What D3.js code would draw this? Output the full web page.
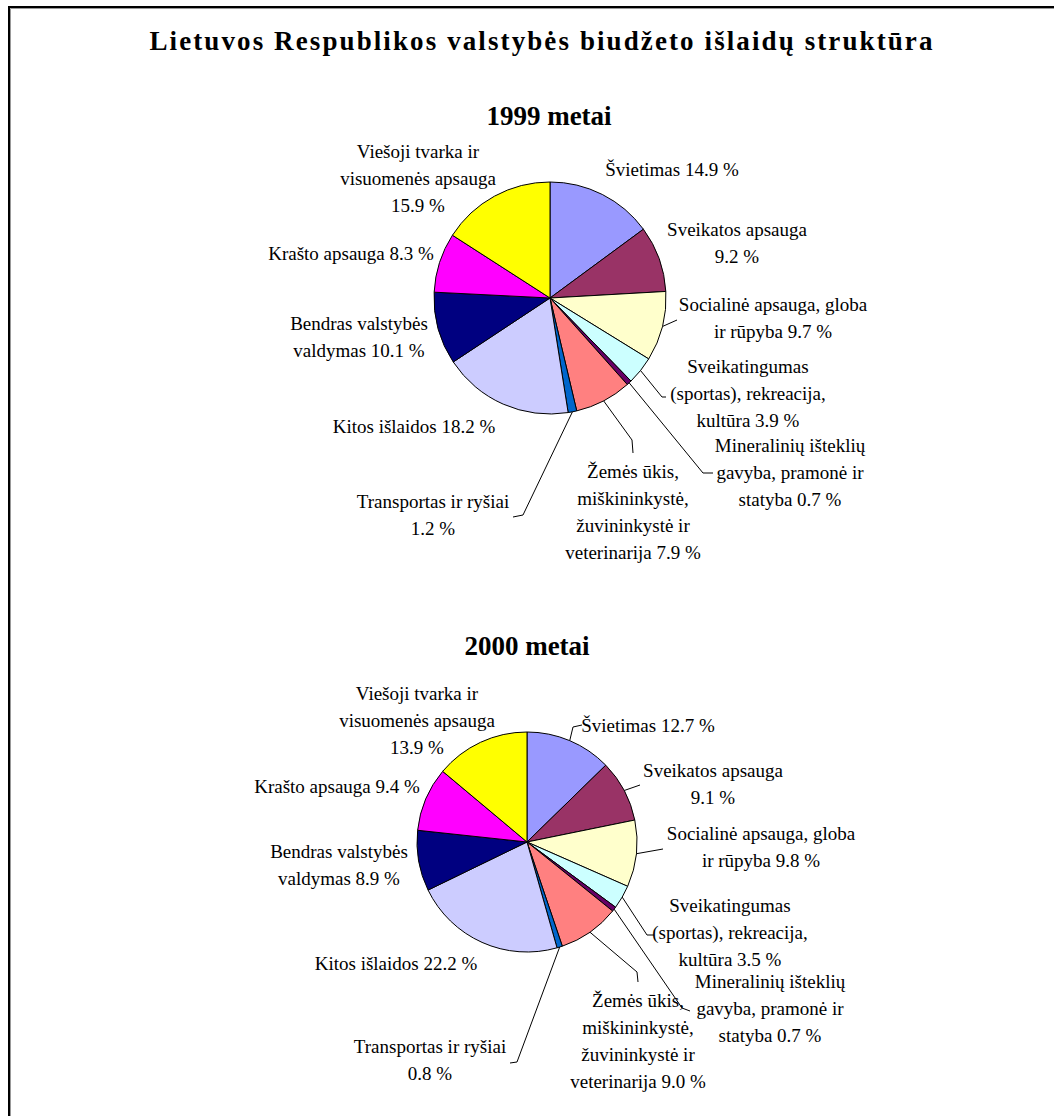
<!DOCTYPE html>
<html>
<head>
<meta charset="utf-8">
<script src="https://cdn.jsdelivr.net/npm/d3@7"></script>
<style>
  html, body { margin: 0; padding: 0; background: #fff; }
  svg { display: block; }
  text { font-family: "Liberation Serif", "Times New Roman", serif; fill: #000; }
</style>
</head>
<body>
<svg id="chart" width="1054" height="1116"></svg>
<script>
// ---------- DATA ----------
const chartTitle = "Lietuvos Respublikos valstybės biudžeto išlaidų struktūra";
const years = ["1999 metai", "2000 metai"];
const categories = [
  "Švietimas",
  "Sveikatos apsauga|",
  "Socialinė apsauga, globa|ir rūpyba",
  "Sveikatingumas|(sportas), rekreacija,|kultūra",
  "Mineralinių išteklių|gavyba, pramonė ir|statyba",
  "Žemės ūkis,|miškininkystė,|žuvininkystė ir|veterinarija",
  "Transportas ir ryšiai|",
  "Kitos išlaidos",
  "Bendras valstybės|valdymas",
  "Krašto apsauga",
  "Viešoji tvarka ir|visuomenės apsauga|"
];
const values1999 = [14.9, 9.2, 9.7, 3.9, 0.7, 7.9, 1.2, 18.2, 10.1, 8.3, 15.9];
const values2000 = [12.7, 9.1, 9.8, 3.5, 0.7, 9.0, 0.8, 22.2, 8.9, 9.4, 13.9];
const colors = ["#9999FF", "#993366", "#FFFFCC", "#CCFFFF", "#660066", "#FF8080",
                "#0066CC", "#CCCCFF", "#000080", "#FF00FF", "#FFFF00"];

// ---------- LAYOUT ----------
const lineH = 27;
const layouts = [
  {
    cx: 550, cy: 298, r: 116, titleX: 549, titleY: 125,
    labels: [[672,176],[737,236],[773,311],[748,373],[790,452],[633,478],[433,508],[414,433],[359,330],[351,260],[418,158]],
    leaders: [null, null, [[677,320]], [[662,397],[666,397]], [[703,473],[713,473]], [[632,440],[633,453]], [[523,515],[513,517]], null, null, null, null]
  },
  {
    cx: 527, cy: 842, r: 110, titleX: 527, titleY: 655,
    labels: [[648,732],[713,777],[761,840],[730,912],[770,988],[638,1007],[430,1053],[396,970],[339,858],[337,793],[417,700]],
    leaders: [[[573,727],[582,725]], [[640,785]], [[663,849]], [[647,935],[654,935]], [[682,1008],[690,1011]], [[637,972],[638,982]], [[517,1062],[510,1063]], null, null, null, null]
  }
];

const svg = d3.select("#chart");

// frame (top + left border with shadow)
svg.append("path").attr("d", "M9,1116 V7 H1054").attr("fill", "none").attr("stroke", "#000").attr("stroke-width", 2);
svg.append("path").attr("d", "M10.5,1116 V8.5 H1054").attr("fill", "none").attr("stroke", "#999").attr("stroke-width", 1);

svg.append("text")
  .attr("x", 542).attr("y", 50)
  .attr("text-anchor", "middle")
  .attr("font-size", 27).attr("font-weight", "bold")
  .attr("letter-spacing", 2.1)
  .text(chartTitle);

const pie = d3.pie().sort(null).value(d => d);
const fmt = v => d3.format(".1f")(v) + " %";

[values1999, values2000].forEach((vals, pi) => {
  const L = layouts[pi];
  const g = svg.append("g");
  g.append("text")
    .attr("x", L.titleX).attr("y", L.titleY)
    .attr("text-anchor", "middle")
    .attr("font-size", 27).attr("font-weight", "bold")
    .text(years[pi]);

  const arcs = pie(vals);
  const arc = d3.arc().innerRadius(0).outerRadius(L.r);
  const edge = d3.arc().innerRadius(L.r).outerRadius(L.r);
  const pg = g.append("g").attr("transform", `translate(${L.cx},${L.cy})`);
  pg.selectAll("path").data(arcs).join("path")
    .attr("d", arc)
    .attr("fill", (d, i) => colors[i])
    .attr("stroke", "#000").attr("stroke-width", 1).attr("stroke-linejoin", "round");

  // leader lines
  arcs.forEach((d, i) => {
    const ld = L.leaders[i];
    if (!ld) return;
    const c = edge.centroid(d);
    const pts = [[L.cx + c[0], L.cy + c[1]], ...ld];
    g.append("path").attr("d", d3.line()(pts))
      .attr("fill", "none").attr("stroke", "#000").attr("stroke-width", 1);
  });

  // labels
  categories.forEach((cat, i) => {
    const parts = cat.split("|");
    const last = parts.length - 1;
    parts[last] = (parts[last] ? parts[last] + " " : "") + fmt(vals[i]);
    const [x, y] = L.labels[i];
    const t = g.append("text").attr("text-anchor", "middle").attr("font-size", 19);
    parts.forEach((p, k) => {
      t.append("tspan").attr("x", x).attr("y", y + k * lineH).text(p);
    });
  });
});
</script>
</body>
</html>
